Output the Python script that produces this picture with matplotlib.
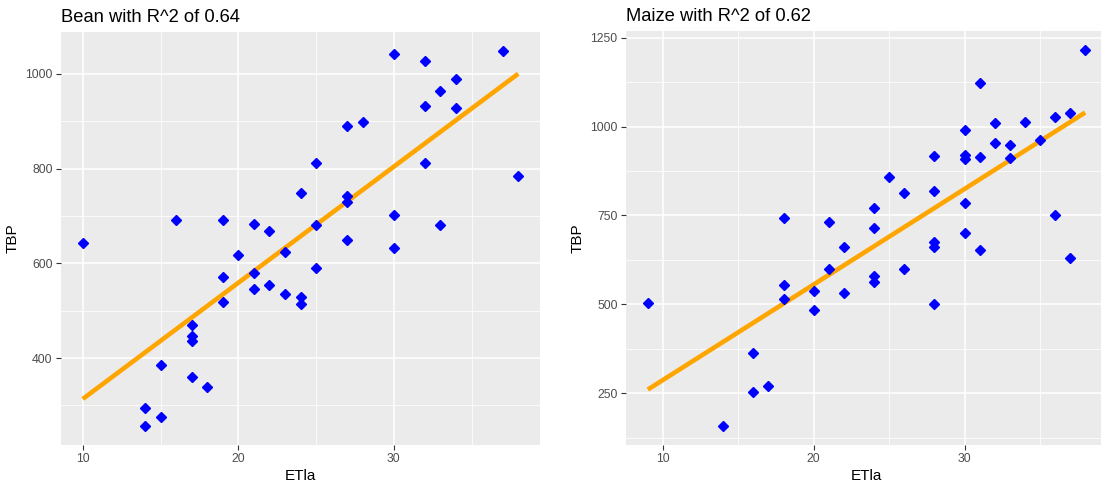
import numpy as np
import matplotlib
matplotlib.use("Agg")
import matplotlib.pyplot as plt
from matplotlib.ticker import MultipleLocator

plt.rcParams['font.family'] = ['Liberation Sans', 'DejaVu Sans']

# bean: ETla vs TBP
bean_etla = [10, 14, 14, 15, 15, 16, 17, 17, 17, 17, 18, 19, 19, 19, 20,
             21, 21, 21, 22, 22, 23, 23, 24, 24, 24, 25, 25, 25, 27, 27,
             27, 27, 28, 30, 30, 30, 32, 32, 32, 33, 33, 34, 34, 37, 38]
bean_tbp = [644, 294, 256, 385, 276, 692, 470, 447, 435, 361, 339, 691, 571, 518, 618,
            684, 580, 545, 669, 555, 623, 535, 749, 528, 515, 813, 682, 590, 890, 742,
            729, 649, 899, 1043, 702, 632, 1027, 932, 813, 965, 680, 989, 928, 1049, 785]

# maize: ETla vs TBP
maize_etla = [9, 14, 16, 16, 17, 18, 18, 18, 20, 20, 21, 21, 22, 22, 24,
              24, 24, 24, 25, 26, 26, 28, 28, 28, 28, 28, 30, 30, 30, 30,
              30, 31, 31, 31, 32, 32, 33, 33, 34, 35, 36, 36, 37, 37, 38]
maize_tbp = [503, 157, 363, 254, 270, 742, 553, 516, 537, 485, 731, 600, 661, 533, 772,
             714, 579, 562, 858, 812, 600, 917, 819, 674, 660, 500, 990, 920, 908, 785,
             700, 1122, 914, 652, 1010, 955, 947, 913, 1014, 961, 1028, 751, 1039, 631, 1216]

W, H = 1101, 488
fig = plt.figure(figsize=(W / 100, H / 100), dpi=100)


def panel(rect, x, y, title, ystep):
    ax = fig.add_axes([rect[0] / W, 1 - rect[3] / H,
                       (rect[2] - rect[0]) / W, (rect[3] - rect[1]) / H])
    ax.set_facecolor('#EBEBEB')
    for s in ax.spines.values():
        s.set_visible(False)
    x = np.array(x, float)
    y = np.array(y, float)
    # least squares fit line over the data range
    k, b = np.polyfit(x, y, 1)
    xs = np.linspace(x.min(), x.max(), 50)
    ax.plot(xs, k * xs + b, color='orange', lw=3.3, zorder=3, solid_capstyle='butt')
    ax.plot(x, y, 'D', color='blue', ms=5.3, mec='blue', zorder=4)
    ax.margins(0.05)
    ax.xaxis.set_major_locator(MultipleLocator(10))
    ax.xaxis.set_minor_locator(MultipleLocator(5))
    ax.yaxis.set_major_locator(MultipleLocator(ystep))
    ax.yaxis.set_minor_locator(MultipleLocator(ystep / 2))
    ax.grid(which='major', color='white', lw=1.1)
    ax.grid(which='minor', color='white', lw=0.55)
    ax.set_axisbelow(True)
    ax.tick_params(which='major', length=3.5, width=0.8, color='#333333',
                   labelsize=8.8, labelcolor='#4D4D4D', pad=2.5)
    ax.tick_params(which='minor', length=0)
    ax.set_xlabel('ETla', fontsize=11, labelpad=3)
    ax.set_ylabel('TBP', fontsize=11, labelpad=4)
    ax.set_title(title, fontsize=13.2, loc='left', pad=7)
    return ax


panel((61, 32, 540, 445), bean_etla, bean_tbp, 'Bean with R^2 of 0.64', 200)
panel((626, 31, 1107, 445), maize_etla, maize_tbp, 'Maize with R^2 of 0.62', 250)

fig.savefig('out.png', dpi=100)
